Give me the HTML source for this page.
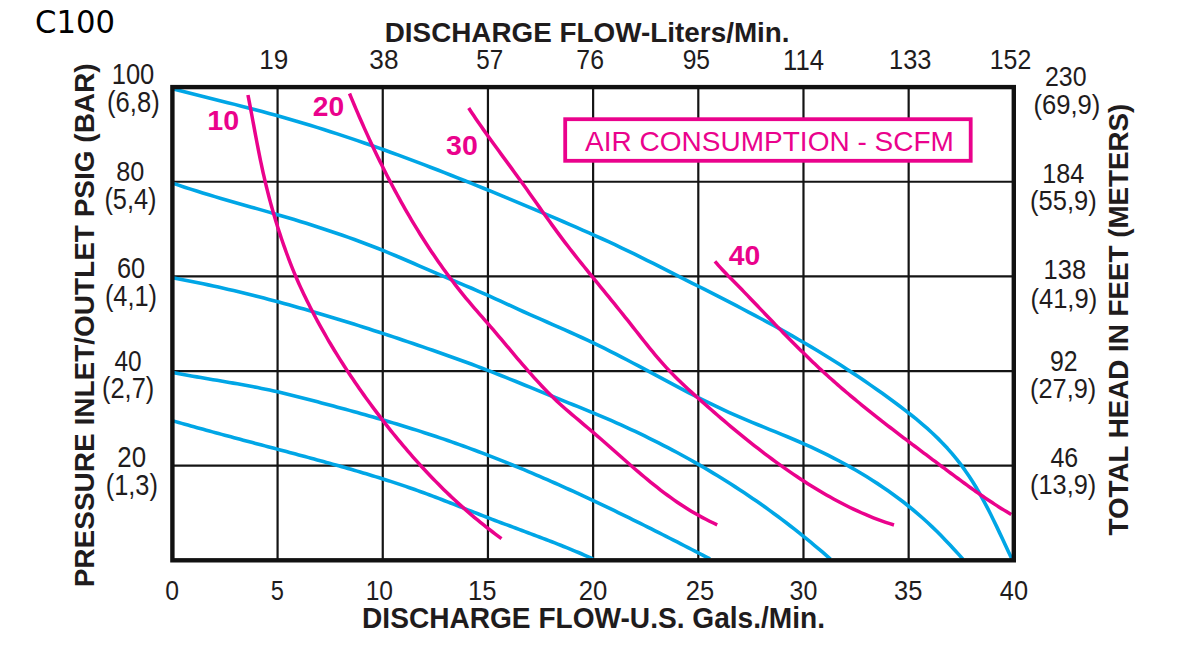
<!DOCTYPE html>
<html><head><meta charset="utf-8"><title>C100 Performance Curve</title>
<style>
html,body{margin:0;padding:0;background:#fff;}
svg{display:block;}
text{font-family:"Liberation Sans",Arial,sans-serif;}
</style></head>
<body>
<svg width="1200" height="660" viewBox="0 0 1200 660">
<rect width="1200" height="660" fill="#fff"/>
<line x1="277.58" y1="87" x2="277.58" y2="561" stroke="#141414" stroke-width="2.2"/>
<line x1="382.76" y1="87" x2="382.76" y2="561" stroke="#141414" stroke-width="2.2"/>
<line x1="487.94" y1="87" x2="487.94" y2="561" stroke="#141414" stroke-width="2.2"/>
<line x1="593.12" y1="87" x2="593.12" y2="561" stroke="#141414" stroke-width="2.2"/>
<line x1="698.30" y1="87" x2="698.30" y2="561" stroke="#141414" stroke-width="2.2"/>
<line x1="803.48" y1="87" x2="803.48" y2="561" stroke="#141414" stroke-width="2.2"/>
<line x1="908.66" y1="87" x2="908.66" y2="561" stroke="#141414" stroke-width="2.2"/>
<line x1="172" y1="181.75" x2="1014" y2="181.75" stroke="#141414" stroke-width="2.2"/>
<line x1="172" y1="276.40" x2="1014" y2="276.40" stroke="#141414" stroke-width="2.2"/>
<line x1="172" y1="371.05" x2="1014" y2="371.05" stroke="#141414" stroke-width="2.2"/>
<line x1="172" y1="465.70" x2="1014" y2="465.70" stroke="#141414" stroke-width="2.2"/>
<path d="M172.50,88.70 L179.40,90.47 L186.29,92.23 L193.20,93.97 L200.10,95.71 L207.01,97.44 L213.92,99.16 L220.83,100.90 L227.74,102.63 L234.65,104.38 L241.55,106.14 L248.45,107.92 L255.34,109.72 L262.22,111.55 L269.10,113.41 L275.96,115.29 L282.82,117.22 L289.67,119.18 L296.50,121.18 L303.32,123.21 L310.14,125.28 L316.94,127.38 L323.73,129.51 L330.52,131.68 L337.29,133.88 L344.05,136.10 L350.81,138.36 L357.55,140.65 L364.29,142.96 L371.01,145.30 L377.73,147.67 L384.44,150.06 L391.14,152.48 L397.83,154.92 L404.51,157.39 L411.19,159.88 L417.85,162.39 L424.51,164.92 L431.16,167.47 L437.80,170.04 L444.44,172.63 L451.07,175.23 L457.69,177.86 L464.30,180.50 L470.91,183.15 L477.52,185.82 L484.11,188.51 L490.71,191.20 L497.29,193.91 L503.88,196.63 L510.46,199.36 L517.03,202.10 L523.60,204.85 L530.17,207.61 L536.73,210.37 L543.29,213.14 L549.85,215.92 L556.40,218.71 L562.95,221.51 L569.49,224.33 L576.02,227.17 L582.54,230.03 L589.05,232.91 L595.55,235.82 L602.04,238.75 L608.50,241.72 L614.96,244.73 L621.39,247.77 L627.81,250.85 L634.21,253.97 L640.60,257.11 L646.97,260.29 L653.34,263.48 L659.70,266.69 L666.05,269.90 L672.41,273.12 L678.76,276.34 L685.12,279.56 L691.48,282.77 L697.84,285.99 L704.19,289.21 L710.54,292.44 L716.89,295.67 L723.23,298.92 L729.56,302.18 L735.89,305.45 L742.21,308.74 L748.51,312.05 L754.80,315.38 L761.08,318.73 L767.35,322.11 L773.60,325.51 L779.83,328.95 L786.05,332.42 L792.24,335.92 L798.41,339.46 L804.57,343.03 L810.69,346.65 L816.80,350.31 L822.88,354.01 L828.94,357.75 L834.97,361.53 L840.97,365.35 L846.95,369.22 L852.91,373.13 L858.84,377.08 L864.74,381.08 L870.61,385.12 L876.46,389.20 L882.28,393.33 L888.07,397.51 L893.83,401.73 L899.55,406.00 L905.23,410.33 L910.85,414.73 L916.41,419.21 L921.87,423.77 L927.24,428.44 L932.50,433.21 L937.62,438.11 L942.60,443.15 L947.42,448.32 L952.08,453.63 L956.59,459.08 L960.93,464.67 L965.10,470.40 L969.11,476.25 L972.97,482.23 L976.68,488.31 L980.25,494.50 L983.70,500.77 L987.04,507.11 L990.29,513.50 L993.46,519.94 L996.57,526.40 L999.63,532.87 L1002.66,539.33 L1005.67,545.77 L1008.68,552.18 L1011.71,558.54" fill="none" stroke="#00a6e6" stroke-width="3.6" stroke-linecap="butt" stroke-linejoin="round"/>
<path d="M172.53,183.10 L178.54,185.16 L184.56,187.17 L190.60,189.14 L196.65,191.06 L202.72,192.94 L208.79,194.79 L214.88,196.61 L220.97,198.41 L227.07,200.18 L233.17,201.94 L239.28,203.68 L245.39,205.42 L251.50,207.15 L257.61,208.89 L263.72,210.64 L269.82,212.39 L275.92,214.16 L282.02,215.95 L288.10,217.76 L294.18,219.59 L300.25,221.45 L306.32,223.34 L312.37,225.25 L318.41,227.19 L324.44,229.17 L330.46,231.17 L336.47,233.21 L342.47,235.29 L348.45,237.40 L354.42,239.55 L360.38,241.74 L366.32,243.97 L372.25,246.24 L378.16,248.55 L384.05,250.92 L389.93,253.32 L395.79,255.77 L401.64,258.24 L407.49,260.75 L413.32,263.26 L419.15,265.80 L424.98,268.33 L430.81,270.87 L436.64,273.40 L442.47,275.91 L448.31,278.40 L454.16,280.87 L460.00,283.34 L465.85,285.80 L471.68,288.28 L477.51,290.79 L483.32,293.32 L489.11,295.90 L494.88,298.52 L500.64,301.17 L506.40,303.83 L512.15,306.49 L517.92,309.14 L523.70,311.75 L529.49,314.34 L535.29,316.91 L541.10,319.47 L546.91,322.02 L552.73,324.56 L558.54,327.11 L564.35,329.67 L570.15,332.25 L575.94,334.86 L581.71,337.49 L587.47,340.16 L593.21,342.88 L598.92,345.64 L604.62,348.44 L610.30,351.29 L615.96,354.17 L621.60,357.08 L627.23,360.02 L632.86,362.98 L638.47,365.95 L644.08,368.94 L649.68,371.94 L655.28,374.94 L660.88,377.95 L666.48,380.94 L672.09,383.93 L677.70,386.91 L683.32,389.86 L688.95,392.80 L694.60,395.71 L700.25,398.58 L705.93,401.42 L711.62,404.22 L717.33,406.98 L723.07,409.68 L728.82,412.33 L734.61,414.93 L740.42,417.46 L746.26,419.94 L752.12,422.38 L757.99,424.79 L763.88,427.18 L769.76,429.56 L775.65,431.94 L781.54,434.34 L787.42,436.76 L793.28,439.22 L799.13,441.72 L804.95,444.28 L810.75,446.91 L816.52,449.60 L822.26,452.35 L827.97,455.16 L833.64,458.05 L839.28,461.00 L844.88,464.01 L850.44,467.10 L855.96,470.26 L861.43,473.49 L866.86,476.79 L872.24,480.17 L877.56,483.62 L882.84,487.15 L888.06,490.76 L893.22,494.44 L898.32,498.21 L903.36,502.05 L908.34,505.98 L913.25,509.99 L918.10,514.09 L922.87,518.27 L927.57,522.54 L932.20,526.89 L936.76,531.33 L941.25,535.84 L945.68,540.41 L950.06,545.04 L954.39,549.70 L958.68,554.38 L962.93,559.09" fill="none" stroke="#00a6e6" stroke-width="3.6" stroke-linecap="butt" stroke-linejoin="round"/>
<path d="M172.51,277.76 L177.63,278.71 L182.74,279.68 L187.84,280.68 L192.94,281.70 L198.03,282.74 L203.12,283.80 L208.21,284.88 L213.29,285.99 L218.36,287.11 L223.43,288.26 L228.50,289.42 L233.56,290.61 L238.61,291.81 L243.67,293.04 L248.71,294.28 L253.75,295.54 L258.79,296.82 L263.83,298.11 L268.86,299.43 L273.88,300.76 L278.90,302.11 L283.92,303.47 L288.93,304.85 L293.94,306.24 L298.94,307.65 L303.94,309.08 L308.94,310.52 L313.93,311.97 L318.92,313.44 L323.90,314.92 L328.88,316.42 L333.86,317.93 L338.83,319.45 L343.80,320.98 L348.77,322.53 L353.73,324.08 L358.69,325.65 L363.65,327.23 L368.60,328.82 L373.55,330.42 L378.49,332.03 L383.43,333.65 L388.37,335.28 L393.31,336.91 L398.24,338.56 L403.17,340.22 L408.09,341.88 L413.02,343.55 L417.94,345.23 L422.85,346.91 L427.77,348.60 L432.68,350.30 L437.58,352.01 L442.49,353.73 L447.38,355.46 L452.28,357.20 L457.17,358.96 L462.05,360.73 L466.93,362.51 L471.80,364.31 L476.67,366.13 L481.53,367.97 L486.39,369.82 L491.23,371.69 L496.08,373.58 L500.91,375.49 L505.74,377.41 L510.57,379.35 L515.39,381.29 L520.21,383.25 L525.03,385.21 L529.84,387.17 L534.66,389.14 L539.47,391.10 L544.29,393.07 L549.11,395.03 L553.92,396.99 L558.75,398.93 L563.57,400.87 L568.40,402.81 L573.22,404.74 L578.05,406.67 L582.87,408.62 L587.68,410.58 L592.49,412.56 L597.29,414.56 L602.07,416.59 L606.85,418.64 L611.62,420.72 L616.37,422.82 L621.11,424.95 L625.85,427.10 L630.57,429.28 L635.27,431.49 L639.97,433.72 L644.65,435.98 L649.32,438.26 L653.98,440.58 L658.62,442.91 L663.25,445.28 L667.87,447.67 L672.47,450.09 L677.06,452.53 L681.63,455.01 L686.19,457.51 L690.73,460.04 L695.26,462.59 L699.77,465.17 L704.26,467.79 L708.74,470.42 L713.20,473.09 L717.65,475.79 L722.07,478.51 L726.48,481.26 L730.87,484.05 L735.25,486.86 L739.60,489.70 L743.94,492.56 L748.26,495.46 L752.56,498.39 L756.84,501.34 L761.10,504.32 L765.34,507.33 L769.57,510.37 L773.77,513.43 L777.95,516.52 L782.11,519.64 L786.26,522.79 L790.38,525.96 L794.48,529.15 L798.56,532.38 L802.62,535.62 L806.66,538.90 L810.68,542.19 L814.68,545.52 L818.66,548.86 L822.61,552.23 L826.54,555.63 L830.46,559.04" fill="none" stroke="#00a6e6" stroke-width="3.6" stroke-linecap="butt" stroke-linejoin="round"/>
<path d="M172.48,372.39 L176.52,373.18 L180.57,373.94 L184.61,374.70 L188.67,375.43 L192.72,376.16 L196.78,376.87 L200.83,377.58 L204.89,378.28 L208.95,378.97 L213.01,379.66 L217.07,380.35 L221.13,381.04 L225.19,381.73 L229.25,382.43 L233.30,383.13 L237.36,383.84 L241.41,384.57 L245.45,385.30 L249.50,386.05 L253.54,386.81 L257.57,387.60 L261.60,388.40 L265.63,389.22 L269.65,390.07 L273.66,390.94 L277.67,391.84 L281.67,392.77 L285.67,393.73 L289.66,394.70 L293.65,395.70 L297.63,396.70 L301.61,397.72 L305.60,398.75 L309.58,399.78 L313.56,400.82 L317.54,401.86 L321.52,402.90 L325.50,403.95 L329.48,405.01 L333.45,406.07 L337.43,407.14 L341.40,408.22 L345.38,409.30 L349.35,410.38 L353.32,411.48 L357.29,412.58 L361.25,413.69 L365.22,414.81 L369.18,415.93 L373.14,417.07 L377.10,418.21 L381.05,419.36 L385.01,420.52 L388.96,421.69 L392.90,422.87 L396.85,424.06 L400.79,425.25 L404.72,426.46 L408.66,427.68 L412.59,428.91 L416.51,430.15 L420.43,431.41 L424.35,432.67 L428.27,433.94 L432.18,435.23 L436.08,436.53 L439.98,437.84 L443.88,439.17 L447.77,440.51 L451.65,441.86 L455.53,443.22 L459.41,444.60 L463.28,445.99 L467.14,447.40 L471.01,448.82 L474.86,450.25 L478.71,451.69 L482.56,453.15 L486.40,454.62 L490.23,456.10 L494.06,457.60 L497.89,459.10 L501.71,460.62 L505.53,462.15 L509.34,463.69 L513.15,465.24 L516.95,466.80 L520.75,468.38 L524.55,469.96 L528.34,471.56 L532.13,473.16 L535.91,474.78 L539.69,476.40 L543.46,478.04 L547.23,479.68 L551.00,481.34 L554.76,483.00 L558.52,484.67 L562.28,486.35 L566.03,488.05 L569.77,489.74 L573.52,491.45 L577.26,493.17 L581.00,494.89 L584.73,496.62 L588.46,498.36 L592.19,500.11 L595.91,501.86 L599.63,503.63 L603.35,505.39 L607.06,507.17 L610.78,508.95 L614.48,510.74 L618.19,512.54 L621.89,514.34 L625.59,516.14 L629.29,517.96 L632.98,519.78 L636.67,521.60 L640.36,523.43 L644.05,525.26 L647.73,527.10 L651.41,528.95 L655.09,530.80 L658.77,532.65 L662.44,534.51 L666.12,536.37 L669.78,538.23 L673.45,540.10 L677.12,541.97 L680.78,543.85 L684.44,545.73 L688.10,547.61 L691.76,549.49 L695.42,551.38 L699.07,553.27 L702.72,555.16 L706.37,557.06 L710.02,558.95" fill="none" stroke="#00a6e6" stroke-width="3.6" stroke-linecap="butt" stroke-linejoin="round"/>
<path d="M172.52,420.74 L175.58,421.62 L178.65,422.50 L181.71,423.37 L184.78,424.23 L187.85,425.10 L190.92,425.96 L193.99,426.81 L197.06,427.66 L200.13,428.51 L203.21,429.36 L206.28,430.20 L209.36,431.04 L212.43,431.88 L215.51,432.71 L218.59,433.55 L221.67,434.38 L224.75,435.21 L227.83,436.03 L230.91,436.86 L233.99,437.68 L237.07,438.50 L240.16,439.32 L243.24,440.14 L246.32,440.96 L249.41,441.78 L252.49,442.60 L255.57,443.42 L258.66,444.23 L261.74,445.05 L264.83,445.87 L267.91,446.68 L270.99,447.50 L274.08,448.32 L277.16,449.13 L280.24,449.95 L283.33,450.77 L286.41,451.59 L289.49,452.41 L292.57,453.24 L295.66,454.06 L298.74,454.89 L301.82,455.72 L304.90,456.55 L307.98,457.38 L311.05,458.21 L314.13,459.05 L317.21,459.89 L320.28,460.73 L323.36,461.58 L326.43,462.43 L329.51,463.28 L332.58,464.13 L335.65,464.99 L338.72,465.85 L341.79,466.72 L344.85,467.59 L347.92,468.47 L350.98,469.35 L354.04,470.23 L357.10,471.12 L360.16,472.02 L363.21,472.93 L366.27,473.84 L369.32,474.75 L372.37,475.68 L375.41,476.61 L378.46,477.55 L381.50,478.50 L384.54,479.46 L387.57,480.42 L390.60,481.40 L393.63,482.38 L396.66,483.37 L399.68,484.38 L402.70,485.39 L405.72,486.41 L408.73,487.45 L411.74,488.49 L414.74,489.55 L417.74,490.62 L420.74,491.70 L423.73,492.79 L426.72,493.90 L429.71,495.01 L432.69,496.13 L435.67,497.26 L438.65,498.40 L441.63,499.55 L444.60,500.70 L447.57,501.86 L450.54,503.02 L453.51,504.19 L456.48,505.36 L459.45,506.53 L462.41,507.70 L465.38,508.88 L468.35,510.05 L471.32,511.22 L474.29,512.39 L477.26,513.55 L480.23,514.72 L483.20,515.87 L486.18,517.03 L489.15,518.17 L492.13,519.31 L495.11,520.45 L498.10,521.57 L501.08,522.70 L504.07,523.82 L507.05,524.94 L510.04,526.05 L513.03,527.17 L516.02,528.28 L519.01,529.39 L522.00,530.50 L524.98,531.62 L527.97,532.73 L530.96,533.85 L533.94,534.97 L536.93,536.09 L539.91,537.22 L542.89,538.35 L545.87,539.48 L548.84,540.63 L551.81,541.78 L554.78,542.93 L557.75,544.10 L560.71,545.27 L563.67,546.46 L566.63,547.65 L569.58,548.85 L572.53,550.07 L575.47,551.29 L578.41,552.53 L581.34,553.78 L584.27,555.05 L587.20,556.33 L590.11,557.63 L593.02,558.94" fill="none" stroke="#00a6e6" stroke-width="3.6" stroke-linecap="butt" stroke-linejoin="round"/>
<path d="M247.95,95.01 L248.68,98.71 L249.39,102.42 L250.11,106.13 L250.81,109.83 L251.51,113.55 L252.20,117.26 L252.89,120.97 L253.59,124.68 L254.28,128.39 L254.97,132.10 L255.67,135.82 L256.37,139.52 L257.08,143.23 L257.79,146.94 L258.52,150.64 L259.26,154.34 L260.01,158.04 L260.77,161.74 L261.55,165.43 L262.34,169.11 L263.15,172.80 L263.99,176.47 L264.84,180.15 L265.71,183.82 L266.60,187.48 L267.51,191.14 L268.44,194.79 L269.39,198.44 L270.36,202.09 L271.36,205.72 L272.38,209.36 L273.42,212.99 L274.48,216.61 L275.57,220.22 L276.67,223.84 L277.81,227.44 L278.96,231.04 L280.14,234.63 L281.33,238.21 L282.55,241.79 L283.79,245.36 L285.06,248.92 L286.34,252.47 L287.65,256.01 L288.98,259.55 L290.33,263.07 L291.71,266.58 L293.12,270.08 L294.56,273.56 L296.03,277.04 L297.52,280.49 L299.05,283.94 L300.60,287.37 L302.19,290.79 L303.80,294.20 L305.43,297.59 L307.09,300.97 L308.77,304.34 L310.47,307.70 L312.20,311.05 L313.95,314.39 L315.71,317.72 L317.50,321.05 L319.31,324.36 L321.13,327.66 L322.98,330.95 L324.85,334.23 L326.73,337.50 L328.63,340.76 L330.55,344.01 L332.49,347.25 L334.45,350.48 L336.42,353.70 L338.42,356.91 L340.43,360.11 L342.46,363.30 L344.50,366.48 L346.56,369.65 L348.64,372.80 L350.73,375.95 L352.84,379.09 L354.97,382.22 L357.11,385.33 L359.27,388.44 L361.44,391.53 L363.63,394.62 L365.83,397.69 L368.05,400.75 L370.28,403.81 L372.53,406.85 L374.79,409.88 L377.06,412.90 L379.35,415.91 L381.65,418.90 L383.96,421.89 L386.29,424.87 L388.63,427.83 L390.98,430.79 L393.35,433.73 L395.73,436.66 L398.13,439.57 L400.54,442.48 L402.96,445.37 L405.40,448.24 L407.86,451.11 L410.33,453.96 L412.81,456.79 L415.31,459.62 L417.83,462.42 L420.36,465.22 L422.91,467.99 L425.47,470.76 L428.05,473.50 L430.64,476.23 L433.26,478.95 L435.89,481.64 L438.54,484.33 L441.20,486.99 L443.88,489.64 L446.58,492.27 L449.30,494.88 L452.03,497.47 L454.79,500.05 L457.56,502.60 L460.35,505.14 L463.16,507.66 L465.99,510.16 L468.84,512.64 L471.70,515.10 L474.59,517.54 L477.50,519.96 L480.42,522.35 L483.37,524.73 L486.34,527.09 L489.32,529.42 L492.33,531.74 L495.36,534.03 L498.41,536.29 L501.48,538.54" fill="none" stroke="#ea028c" stroke-width="3.5" stroke-linecap="butt" stroke-linejoin="round"/>
<path d="M349.52,93.49 L351.10,97.33 L352.69,101.17 L354.30,105.00 L355.92,108.82 L357.55,112.64 L359.19,116.45 L360.85,120.26 L362.52,124.05 L364.21,127.84 L365.91,131.63 L367.62,135.40 L369.35,139.17 L371.10,142.93 L372.85,146.69 L374.63,150.43 L376.42,154.17 L378.23,157.90 L380.05,161.63 L381.89,165.34 L383.74,169.05 L385.62,172.75 L387.50,176.44 L389.41,180.13 L391.33,183.80 L393.28,187.47 L395.23,191.13 L397.21,194.78 L399.21,198.42 L401.22,202.05 L403.25,205.68 L405.30,209.29 L407.37,212.89 L409.46,216.47 L411.57,220.05 L413.70,223.62 L415.85,227.17 L418.02,230.71 L420.21,234.24 L422.43,237.75 L424.66,241.25 L426.91,244.73 L429.19,248.20 L431.49,251.66 L433.80,255.10 L436.15,258.53 L438.51,261.93 L440.90,265.33 L443.31,268.70 L445.74,272.06 L448.20,275.40 L450.68,278.72 L453.18,282.03 L455.71,285.32 L458.26,288.58 L460.84,291.83 L463.44,295.06 L466.07,298.27 L468.72,301.45 L471.40,304.62 L474.10,307.77 L476.82,310.90 L479.55,314.03 L482.28,317.15 L485.02,320.28 L487.74,323.41 L490.45,326.55 L493.15,329.71 L495.84,332.87 L498.53,336.04 L501.21,339.21 L503.88,342.39 L506.56,345.56 L509.23,348.74 L511.91,351.92 L514.59,355.09 L517.27,358.26 L519.96,361.42 L522.67,364.57 L525.38,367.71 L528.11,370.84 L530.85,373.95 L533.61,377.05 L536.39,380.13 L539.19,383.18 L542.02,386.21 L544.88,389.21 L547.77,392.18 L550.69,395.11 L553.64,398.00 L556.64,400.86 L559.67,403.67 L562.74,406.44 L565.84,409.19 L568.96,411.91 L572.10,414.61 L575.26,417.29 L578.43,419.96 L581.60,422.63 L584.78,425.30 L587.96,427.97 L591.13,430.65 L594.29,433.35 L597.44,436.06 L600.57,438.78 L603.70,441.52 L606.83,444.26 L609.94,447.01 L613.06,449.77 L616.17,452.52 L619.28,455.28 L622.40,458.03 L625.52,460.78 L628.64,463.52 L631.77,466.25 L634.91,468.97 L638.06,471.67 L641.22,474.36 L644.40,477.03 L647.59,479.68 L650.80,482.31 L654.03,484.91 L657.27,487.48 L660.54,490.02 L663.84,492.53 L667.16,495.01 L670.50,497.45 L673.88,499.85 L677.28,502.20 L680.72,504.52 L684.20,506.79 L687.70,509.01 L691.25,511.18 L694.83,513.29 L698.46,515.35 L702.13,517.36 L705.84,519.31 L709.59,521.20 L713.38,523.03 L717.21,524.80" fill="none" stroke="#ea028c" stroke-width="3.5" stroke-linecap="butt" stroke-linejoin="round"/>
<path d="M468.72,108.02 L471.11,111.67 L473.53,115.29 L475.98,118.90 L478.44,122.49 L480.93,126.07 L483.43,129.63 L485.95,133.19 L488.48,136.73 L491.03,140.27 L493.58,143.80 L496.15,147.32 L498.72,150.84 L501.30,154.35 L503.87,157.86 L506.46,161.38 L509.04,164.89 L511.61,168.40 L514.19,171.92 L516.75,175.44 L519.31,178.97 L521.86,182.50 L524.40,186.05 L526.93,189.60 L529.46,193.15 L531.97,196.71 L534.49,200.27 L537.00,203.83 L539.52,207.38 L542.04,210.94 L544.56,214.49 L547.09,218.04 L549.63,221.58 L552.18,225.11 L554.74,228.63 L557.31,232.14 L559.90,235.64 L562.51,239.12 L565.14,242.59 L567.79,246.04 L570.46,249.48 L573.14,252.91 L575.84,256.32 L578.55,259.73 L581.27,263.13 L584.00,266.52 L586.74,269.91 L589.49,273.29 L592.24,276.67 L594.99,280.04 L597.75,283.42 L600.51,286.79 L603.27,290.17 L606.03,293.55 L608.78,296.93 L611.54,300.31 L614.29,303.70 L617.03,307.09 L619.77,310.48 L622.51,313.88 L625.23,317.29 L627.95,320.71 L630.66,324.13 L633.36,327.56 L636.06,330.99 L638.75,334.42 L641.45,337.85 L644.16,341.27 L646.88,344.68 L649.61,348.07 L652.37,351.44 L655.15,354.78 L657.96,358.10 L660.80,361.39 L663.68,364.64 L666.60,367.85 L669.57,371.02 L672.58,374.14 L675.64,377.22 L678.74,380.27 L681.87,383.28 L685.04,386.26 L688.23,389.22 L691.44,392.16 L694.67,395.08 L697.92,397.98 L701.17,400.88 L704.43,403.77 L707.70,406.66 L710.98,409.53 L714.27,412.40 L717.56,415.25 L720.87,418.10 L724.19,420.93 L727.51,423.75 L730.85,426.56 L734.20,429.35 L737.56,432.13 L740.94,434.90 L744.32,437.65 L747.72,440.38 L751.13,443.10 L754.56,445.80 L757.99,448.48 L761.45,451.14 L764.91,453.78 L768.40,456.40 L771.89,459.00 L775.41,461.58 L778.93,464.13 L782.48,466.67 L786.04,469.17 L789.62,471.66 L793.22,474.12 L796.83,476.55 L800.46,478.96 L804.11,481.33 L807.78,483.68 L811.47,486.00 L815.18,488.29 L818.91,490.55 L822.66,492.77 L826.43,494.96 L830.22,497.10 L834.03,499.21 L837.86,501.28 L841.72,503.30 L845.59,505.28 L849.49,507.22 L853.42,509.11 L857.36,510.94 L861.33,512.73 L865.33,514.47 L869.35,516.15 L873.39,517.78 L877.46,519.35 L881.56,520.86 L885.68,522.31 L889.82,523.70 L894.00,525.02" fill="none" stroke="#ea028c" stroke-width="3.5" stroke-linecap="butt" stroke-linejoin="round"/>
<path d="M714.91,261.33 L716.74,263.48 L718.59,265.59 L720.47,267.68 L722.38,269.75 L724.30,271.80 L726.25,273.83 L728.20,275.85 L730.17,277.85 L732.15,279.85 L734.13,281.84 L736.11,283.84 L738.09,285.83 L740.06,287.83 L742.03,289.84 L743.99,291.85 L745.94,293.87 L747.89,295.90 L749.84,297.92 L751.78,299.95 L753.72,301.99 L755.66,304.02 L757.60,306.06 L759.55,308.09 L761.49,310.12 L763.43,312.16 L765.38,314.19 L767.32,316.22 L769.27,318.25 L771.22,320.28 L773.17,322.31 L775.12,324.34 L777.08,326.36 L779.04,328.38 L781.00,330.40 L782.96,332.42 L784.93,334.43 L786.90,336.44 L788.87,338.45 L790.85,340.45 L792.83,342.45 L794.82,344.44 L796.81,346.43 L798.80,348.42 L800.80,350.40 L802.81,352.37 L804.82,354.34 L806.83,356.30 L808.86,358.26 L810.88,360.21 L812.92,362.15 L814.95,364.09 L817.00,366.02 L819.05,367.94 L821.11,369.85 L823.18,371.76 L825.25,373.66 L827.33,375.55 L829.42,377.43 L831.51,379.30 L833.62,381.17 L835.72,383.03 L837.84,384.88 L839.96,386.72 L842.09,388.56 L844.22,390.39 L846.36,392.21 L848.51,394.03 L850.66,395.84 L852.82,397.65 L854.98,399.44 L857.15,401.24 L859.32,403.02 L861.50,404.80 L863.68,406.58 L865.87,408.35 L868.06,410.11 L870.25,411.87 L872.45,413.63 L874.66,415.38 L876.86,417.12 L879.07,418.86 L881.29,420.60 L883.51,422.33 L885.73,424.06 L887.95,425.79 L890.18,427.51 L892.41,429.23 L894.64,430.95 L896.88,432.66 L899.11,434.37 L901.35,436.08 L903.60,437.78 L905.84,439.48 L908.08,441.18 L910.33,442.88 L912.58,444.58 L914.83,446.27 L917.08,447.96 L919.33,449.65 L921.58,451.34 L923.84,453.03 L926.09,454.72 L928.34,456.41 L930.60,458.09 L932.85,459.78 L935.11,461.46 L937.36,463.15 L939.61,464.83 L941.86,466.52 L944.12,468.21 L946.37,469.89 L948.62,471.57 L950.88,473.26 L953.13,474.94 L955.39,476.61 L957.65,478.28 L959.91,479.95 L962.18,481.62 L964.45,483.28 L966.72,484.93 L969.00,486.58 L971.28,488.22 L973.57,489.85 L975.86,491.47 L978.16,493.09 L980.47,494.69 L982.78,496.29 L985.10,497.88 L987.43,499.45 L989.77,501.02 L992.12,502.57 L994.47,504.11 L996.84,505.64 L999.21,507.15 L1001.60,508.65 L1004.00,510.13 L1006.41,511.60 L1008.83,513.05 L1011.26,514.49" fill="none" stroke="#ea028c" stroke-width="3.5" stroke-linecap="butt" stroke-linejoin="round"/>
<rect x="172.4" y="87.1" width="841.4" height="473.2" fill="none" stroke="#111" stroke-width="4.4"/>
<rect x="565.2" y="119.2" width="405.5" height="41.6" fill="#fff" stroke="#ea028c" stroke-width="3.8"/>
<text x="0" y="0" transform="translate(585.11 150.70) scale(0.9832 1)" font-size="28.49" font-weight="normal" fill="#ea028c">AIR CONSUMPTION - SCFM</text>
<text x="0" y="0" transform="translate(207.34 129.72) scale(1.0173 1)" font-size="28.17" font-weight="bold" fill="#ea028c">10</text>
<text x="0" y="0" transform="translate(312.81 115.53) scale(1.0487 1)" font-size="26.90" font-weight="bold" fill="#ea028c">20</text>
<text x="0" y="0" transform="translate(446.09 155.32) scale(1.0073 1)" font-size="28.31" font-weight="bold" fill="#ea028c">30</text>
<text x="0" y="0" transform="translate(728.77 264.62) scale(1.0011 1)" font-size="28.31" font-weight="bold" fill="#ea028c">40</text>
<text x="0" y="0" transform="translate(35.11 33.03) scale(0.9852 1)" font-size="31.13" font-weight="normal" fill="#000" style="font-family:'DejaVu Sans','Liberation Sans',sans-serif">C100</text>
<text x="0" y="0" transform="translate(384.69 42.30) scale(0.9834 1)" font-size="28.34" font-weight="bold" fill="#1f1c1d">DISCHARGE FLOW-Liters/Min.</text>
<text x="0" y="0" transform="translate(362.07 627.85) scale(0.9594 1)" font-size="29.29" font-weight="bold" fill="#1f1c1d">DISCHARGE FLOW-U.S. Gals./Min.</text>
<text x="0" y="0" transform="translate(93.50 587.32) rotate(-90) scale(1.0021 1)" font-size="27.94" font-weight="bold" fill="#1f1c1d">PRESSURE INLET/OUTLET PSIG (BAR)</text>
<text x="0" y="0" transform="translate(1128.20 535.48) rotate(-90) scale(0.9839 1)" font-size="28.22" font-weight="bold" fill="#1f1c1d">TOTAL HEAD IN FEET (METERS)</text>
<text x="0" y="0" transform="translate(259.29 69.42) scale(0.9316 1)" font-size="28.03" font-weight="normal" fill="#1f1c1d">19</text>
<text x="0" y="0" transform="translate(369.35 69.42) scale(0.9353 1)" font-size="28.03" font-weight="normal" fill="#1f1c1d">38</text>
<text x="0" y="0" transform="translate(476.33 69.42) scale(0.8518 1)" font-size="28.43" font-weight="normal" fill="#1f1c1d">57</text>
<text x="0" y="0" transform="translate(576.36 69.42) scale(0.8858 1)" font-size="28.03" font-weight="normal" fill="#1f1c1d">76</text>
<text x="0" y="0" transform="translate(682.69 69.42) scale(0.8772 1)" font-size="28.03" font-weight="normal" fill="#1f1c1d">95</text>
<text x="0" y="0" transform="translate(783.07 69.70) scale(0.8913 1)" font-size="28.84" font-weight="normal" fill="#1f1c1d">114</text>
<text x="0" y="0" transform="translate(889.10 69.42) scale(0.9052 1)" font-size="28.03" font-weight="normal" fill="#1f1c1d">133</text>
<text x="0" y="0" transform="translate(989.73 69.42) scale(0.8873 1)" font-size="28.03" font-weight="normal" fill="#1f1c1d">152</text>
<text x="0" y="0" transform="translate(165.26 599.52) scale(0.8782 1)" font-size="28.17" font-weight="normal" fill="#1f1c1d">0</text>
<text x="0" y="0" transform="translate(270.80 599.51) scale(0.8289 1)" font-size="28.57" font-weight="normal" fill="#1f1c1d">5</text>
<text x="0" y="0" transform="translate(365.65 599.52) scale(0.8741 1)" font-size="28.17" font-weight="normal" fill="#1f1c1d">10</text>
<text x="0" y="0" transform="translate(468.08 599.51) scale(0.8970 1)" font-size="28.57" font-weight="normal" fill="#1f1c1d">15</text>
<text x="0" y="0" transform="translate(578.71 599.52) scale(0.9136 1)" font-size="28.17" font-weight="normal" fill="#1f1c1d">20</text>
<text x="0" y="0" transform="translate(685.73 599.52) scale(0.9049 1)" font-size="28.17" font-weight="normal" fill="#1f1c1d">25</text>
<text x="0" y="0" transform="translate(789.50 599.52) scale(0.8875 1)" font-size="28.17" font-weight="normal" fill="#1f1c1d">30</text>
<text x="0" y="0" transform="translate(893.98 599.52) scale(0.9047 1)" font-size="28.17" font-weight="normal" fill="#1f1c1d">35</text>
<text x="0" y="0" transform="translate(999.87 599.52) scale(0.9002 1)" font-size="28.17" font-weight="normal" fill="#1f1c1d">40</text>
<text x="0" y="0" transform="translate(111.68 84.41) scale(0.8806 1)" font-size="29.01" font-weight="normal" fill="#1f1c1d">100</text>
<text x="0" y="0" transform="translate(116.16 181.32) scale(0.8881 1)" font-size="28.45" font-weight="normal" fill="#1f1c1d">80</text>
<text x="0" y="0" transform="translate(116.93 277.71) scale(0.8881 1)" font-size="28.59" font-weight="normal" fill="#1f1c1d">60</text>
<text x="0" y="0" transform="translate(114.39 370.61) scale(0.8290 1)" font-size="29.44" font-weight="normal" fill="#1f1c1d">40</text>
<text x="0" y="0" transform="translate(117.31 467.01) scale(0.8964 1)" font-size="28.87" font-weight="normal" fill="#1f1c1d">20</text>
<text x="0" y="0" transform="translate(107.06 112.18) scale(0.8943 1)" font-size="28.66" font-weight="normal" fill="#1f1c1d">(6,8)</text>
<text x="0" y="0" transform="translate(104.38 208.98) scale(0.8853 1)" font-size="28.66" font-weight="normal" fill="#1f1c1d">(5,4)</text>
<text x="0" y="0" transform="translate(104.88 305.78) scale(0.8853 1)" font-size="28.66" font-weight="normal" fill="#1f1c1d">(4,1)</text>
<text x="0" y="0" transform="translate(102.08 398.08) scale(0.8853 1)" font-size="28.66" font-weight="normal" fill="#1f1c1d">(2,7)</text>
<text x="0" y="0" transform="translate(105.78 494.78) scale(0.8853 1)" font-size="28.66" font-weight="normal" fill="#1f1c1d">(1,3)</text>
<text x="0" y="0" transform="translate(1044.95 86.33) scale(0.9179 1)" font-size="27.18" font-weight="normal" fill="#1f1c1d">230</text>
<text x="0" y="0" transform="translate(1042.31 183.32) scale(0.9034 1)" font-size="27.89" font-weight="normal" fill="#1f1c1d">184</text>
<text x="0" y="0" transform="translate(1043.59 279.32) scale(0.9231 1)" font-size="27.61" font-weight="normal" fill="#1f1c1d">138</text>
<text x="0" y="0" transform="translate(1049.88 370.51) scale(0.8557 1)" font-size="29.01" font-weight="normal" fill="#1f1c1d">92</text>
<text x="0" y="0" transform="translate(1050.38 467.22) scale(0.9056 1)" font-size="27.61" font-weight="normal" fill="#1f1c1d">46</text>
<text x="0" y="0" transform="translate(1033.46 114.13) scale(0.9006 1)" font-size="28.45" font-weight="normal" fill="#1f1c1d">(69,9)</text>
<text x="0" y="0" transform="translate(1030.07 209.63) scale(0.8978 1)" font-size="28.45" font-weight="normal" fill="#1f1c1d">(55,9)</text>
<text x="0" y="0" transform="translate(1030.47 307.63) scale(0.8978 1)" font-size="28.45" font-weight="normal" fill="#1f1c1d">(41,9)</text>
<text x="0" y="0" transform="translate(1030.08 397.63) scale(0.8908 1)" font-size="28.45" font-weight="normal" fill="#1f1c1d">(27,9)</text>
<text x="0" y="0" transform="translate(1030.08 493.93) scale(0.8908 1)" font-size="28.45" font-weight="normal" fill="#1f1c1d">(13,9)</text>
</svg>
</body></html>
